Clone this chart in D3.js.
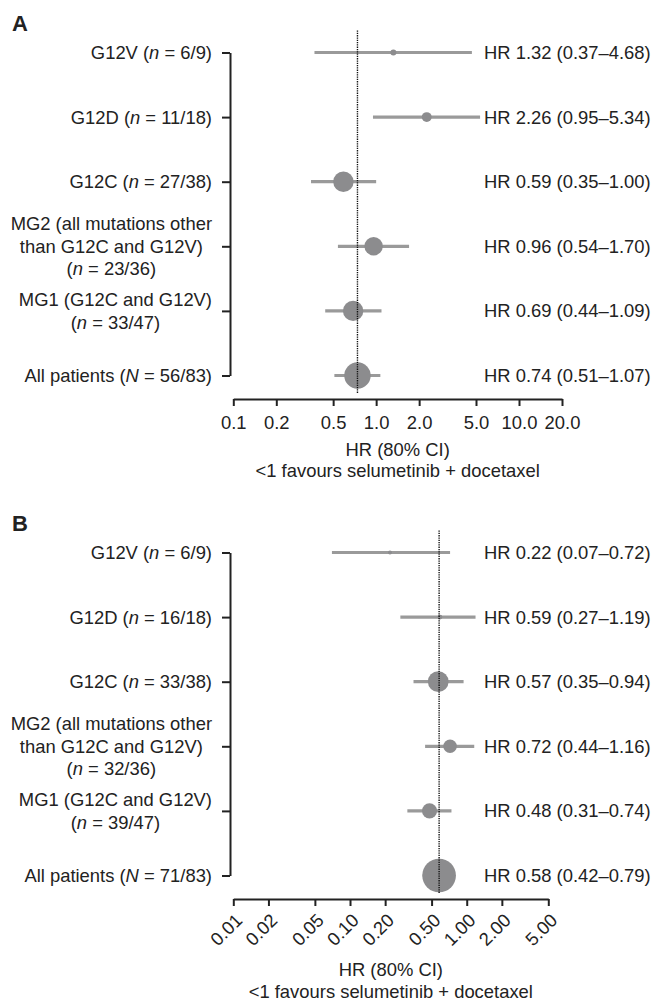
<!DOCTYPE html>
<html>
<head>
<meta charset="utf-8">
<script src="https://cdn.jsdelivr.net/npm/d3@7"></script>
<style>
  body { margin: 0; background: #fff; }
  text { font-family: "Liberation Sans", Arial, Helvetica, sans-serif; fill: #222; }
</style>
</head>
<body>
<div id="chart"></div>
<script>
// subgroup labels (lines of each label)
var labelsA = [
  ["G12V (n = 6/9)"],
  ["G12D (n = 11/18)"],
  ["G12C (n = 27/38)"],
  ["MG2 (all mutations other", "than G12C and G12V)", "(n = 23/36)"],
  ["MG1 (G12C and G12V)", "(n = 33/47)"],
  ["All patients (N = 56/83)"]
];
var hrA = [1.32, 2.26, 0.59, 0.96, 0.69, 0.74],
    loA = [0.37, 0.95, 0.35, 0.54, 0.44, 0.51],
    hiA = [4.68, 5.34, 1.00, 1.70, 1.09, 1.07],
    weightA = [1.8, 4.9, 20.8, 16.9, 20.8, 34.8]; // relative weight, %
var ticksA = [0.1, 0.2, 0.5, 1, 2, 5, 10, 20];

var labelsB = [
  ["G12V (n = 6/9)"],
  ["G12D (n = 16/18)"],
  ["G12C (n = 33/38)"],
  ["MG2 (all mutations other", "than G12C and G12V)", "(n = 32/36)"],
  ["MG1 (G12C and G12V)", "(n = 39/47)"],
  ["All patients (N = 71/83)"]
];
var hrB = [0.22, 0.59, 0.57, 0.72, 0.48, 0.58],
    loB = [0.07, 0.27, 0.35, 0.44, 0.31, 0.42],
    hiB = [0.72, 1.19, 0.94, 1.16, 0.74, 0.79],
    weightB = [0.8, 1.1, 21.4, 9.1, 11.3, 56.4];
var ticksB = [0.01, 0.02, 0.05, 0.1, 0.2, 0.5, 1, 2, 5];

var xTitle = "HR (80% CI)",
    xNote = "<1 favours selumetinib + docetaxel";

var width = 657, height = 1001,
    fontSize = 18.4,
    lineColor = "#9a9a9a",
    dotColor = "#8c8c8e";

var svg = d3.select("#chart").append("svg")
    .attr("width", width)
    .attr("height", height);

var rScale = d3.scaleSqrt().domain([0, 100]).range([0, 22.4]);

function fmtCI(v) { return v.toFixed(2); }

// write a line, putting the n / N of "n = .." in italics
function addLine(textSel, str) {
  var parts = str.split(/([nN])(?= =)/);
  parts.forEach(function(p, i) {
    if (p === "") return;
    textSel.append("tspan")
      .style("font-style", i % 2 == 1 ? "italic" : "normal")
      .text(p);
  });
}

function drawPanel(opts) {
  var g = svg.append("g").attr("transform", "translate(0," + opts.top + ")");
  var rows = d3.range(opts.labels.length);

  g.append("text")
    .attr("x", 12).attr("y", 31)
    .style("font-size", "22px").style("font-weight", "bold")
    .text(opts.letter);

  var x = d3.scaleLog().domain(opts.domain).range(opts.range);
  var y = d3.scalePoint().domain(rows).range([52.5, 375.5]);
  var axisY = 399;

  // y axis
  var yAxis = g.append("g")
    .attr("transform", "translate(230,0)")
    .call(d3.axisLeft(y).tickSize(8).tickSizeOuter(0).tickFormat(""));
  yAxis.select(".domain").attr("stroke", "#222").attr("stroke-width", 2);
  yAxis.selectAll(".tick line").attr("stroke", "#222").attr("stroke-width", 2);

  // row labels
  rows.forEach(function(i) {
    var lines = opts.labels[i];
    var lh = 22.5;
    var t = g.append("text")
      .style("font-size", fontSize + "px")
      .attr("text-anchor", "middle");
    lines.forEach(function(l, k) {
      var line = t.append("tspan")
        .attr("y", y(i) + (k - (lines.length - 1) / 2) * lh)
        .attr("dy", "0.35em");
      addLine(line, l);
    });
    var maxW = 0;
    t.selectAll(":scope > tspan").each(function() {
      maxW = Math.max(maxW, this.getComputedTextLength());
    });
    t.attr("transform", "translate(" + (212 - maxW / 2) + ",0)");
    t.selectAll(":scope > tspan").attr("x", 0);
  });

  // x axis
  var xAxis = g.append("g")
    .attr("transform", "translate(0," + axisY + ")")
    .call(d3.axisBottom(x).tickValues(opts.ticks).tickSize(7).tickSizeOuter(0)
      .tickPadding(10).tickFormat(d3.format(opts.fmt)));
  xAxis.select(".domain").attr("stroke", "#222").attr("stroke-width", 2);
  xAxis.selectAll(".tick line").attr("stroke", "#222").attr("stroke-width", 2);
  xAxis.selectAll(".tick text")
    .style("font-size", fontSize + "px")
    .style("font-family", "'Liberation Sans', Arial, sans-serif")
    .attr("fill", "#222");
  if (opts.rotate) {
    xAxis.selectAll(".tick text")
      .attr("y", 0).attr("dy", "0.35em")
      .attr("text-anchor", "end")
      .attr("transform", "translate(5,18) rotate(-45)");
  }

  g.append("text")
    .attr("x", (opts.range[0] + opts.range[1]) / 2)
    .attr("y", opts.titleY)
    .attr("text-anchor", "middle")
    .style("font-size", fontSize + "px")
    .text(xTitle);
  g.append("text")
    .attr("x", (opts.range[0] + opts.range[1]) / 2)
    .attr("y", opts.titleY + 21.5)
    .attr("text-anchor", "middle")
    .style("font-size", fontSize + "px")
    .text(xNote);

  // CI lines
  g.selectAll(".ci")
    .data(rows).enter().append("line")
    .attr("class", "ci")
    .attr("x1", function(i) { return x(opts.lo[i]); })
    .attr("x2", function(i) { return x(opts.hi[i]); })
    .attr("y1", function(i) { return y(i); })
    .attr("y2", function(i) { return y(i); })
    .attr("stroke", lineColor)
    .attr("stroke-width", 3.2);

  g.selectAll(".pt")
    .data(rows).enter().append("circle")
    .attr("class", "pt")
    .attr("cx", function(i) { return x(opts.hr[i]); })
    .attr("cy", function(i) { return y(i); })
    .attr("r", function(i) { return rScale(opts.weight[i]); })
    .attr("fill", dotColor);

  // reference line at overall HR
  var ref = opts.hr[opts.hr.length - 1];
  g.append("line")
    .attr("x1", x(ref)).attr("x2", x(ref))
    .attr("y1", y(0) - 22).attr("y2", axisY - 6)
    .attr("stroke", "#111")
    .attr("stroke-width", 1.4)
    .attr("stroke-dasharray", "1.3,1");

  // HR text on the right
  g.selectAll(".hrlab")
    .data(rows).enter().append("text")
    .attr("class", "hrlab")
    .attr("x", 484)
    .attr("y", function(i) { return y(i); })
    .attr("dy", "0.35em")
    .style("font-size", fontSize + "px")
    .text(function(i) {
      return "HR " + fmtCI(opts.hr[i]) + " (" + fmtCI(opts.lo[i]) + "\u2013" + fmtCI(opts.hi[i]) + ")";
    });
}

drawPanel({ top: 0, letter: "A", labels: labelsA, hr: hrA, lo: loA, hi: hiA, weight: weightA,
  domain: [0.1, 20], range: [233.3, 562], ticks: ticksA, fmt: ".1f", rotate: false, titleY: 455.5 });
drawPanel({ top: 500, letter: "B", labels: labelsB, hr: hrB, lo: loB, hi: hiB, weight: weightB,
  domain: [0.01, 5], range: [233.3, 548.3], ticks: ticksB, fmt: ".2f", rotate: true, titleY: 476 });
</script>
</body>
</html>
